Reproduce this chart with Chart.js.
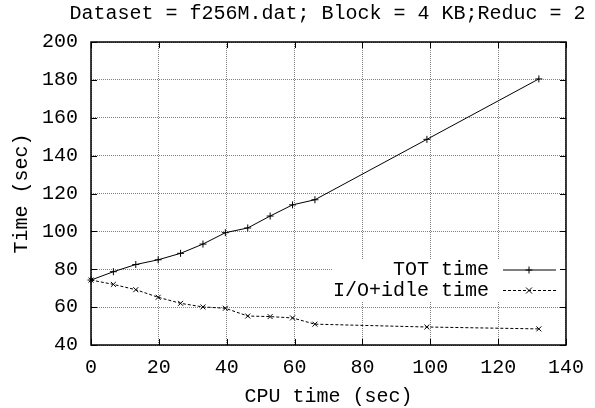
<!DOCTYPE html>
<html><head><meta charset="utf-8">
<script src="https://cdn.jsdelivr.net/npm/chart.js@4"></script>
<style>html,body{margin:0;padding:0;background:#fff}#wrap{width:595px;height:408px}</style>
</head><body><div id="wrap"><canvas id="c" width="595" height="408"></canvas></div>
<script>
const chartTitle = 'Dataset = f256M.dat; Block = 4 KB;Reduc = 2';
const xTitle = 'CPU time (sec)';
const yTitle = 'Time (sec)';
const seriesLabels = ['TOT time', 'I/O+idle time'];
const cpuTime = [0, 6.6, 13.2, 19.8, 26.4, 33, 39.6, 46.2, 52.8, 59.4, 66, 99, 132];
const totTime = [74.3, 78.7, 82.5, 85.0, 88.4, 93.3, 99.3, 101.8, 108.1, 114.0, 116.7, 148.6, 180.5];
const ioIdleTime = [74.3, 72.0, 69.2, 65.2, 62.0, 60.1, 59.4, 55.3, 55.0, 54.3, 51.0, 49.5, 48.5];
const xTicks = [0, 20, 40, 60, 80, 100, 120, 140];
const yTicks = [40, 60, 80, 100, 120, 140, 160, 180, 200];

const FONT = "'Liberation Mono', 'DejaVu Sans Mono', monospace";
const FS = 20;

function pts(xs, ys) { return xs.map((x, i) => ({x: x, y: ys[i]})); }

const framePlugin = {
  id: 'frame',
  afterDraw(chart) {
    const ctx = chart.ctx, a = chart.chartArea;
    const xs = chart.scales.x, ys = chart.scales.y;
    ctx.save();
    // title centered on plot
    ctx.fillStyle = '#000';
    ctx.font = FS + 'px ' + FONT;
    ctx.textAlign = 'center';
    ctx.textBaseline = 'middle';
    ctx.fillText(chartTitle, (a.left + a.right) / 2 - 1, 14);
    // legend (key)
    ctx.fillStyle = '#fff';
    ctx.fillRect(332, 259, 236, 42);
    ctx.fillStyle = '#000';
    ctx.textAlign = 'right';
    const rows = [270, 290.5];
    const x0 = 503, x1 = 556, xm = 529;
    ctx.fillText(seriesLabels[0], 489, rows[0]);
    ctx.fillText(seriesLabels[1], 489, rows[1]);
    ctx.strokeStyle = '#000';
    ctx.lineWidth = 1;
    ctx.beginPath(); ctx.moveTo(x0, rows[0]); ctx.lineTo(x1, rows[0]); ctx.stroke();
    ctx.beginPath(); ctx.moveTo(xm - 3.5, rows[0]); ctx.lineTo(xm + 3.5, rows[0]);
    ctx.moveTo(xm, rows[0] - 3.5); ctx.lineTo(xm, rows[0] + 3.5); ctx.stroke();
    ctx.setLineDash([3, 2]);
    ctx.beginPath(); ctx.moveTo(x0, rows[1]); ctx.lineTo(x1, rows[1]); ctx.stroke();
    ctx.setLineDash([]);
    ctx.beginPath(); ctx.moveTo(xm - 3, rows[1] - 3); ctx.lineTo(xm + 3, rows[1] + 3);
    ctx.moveTo(xm - 3, rows[1] + 3); ctx.lineTo(xm + 3, rows[1] - 3); ctx.stroke();
    // inward ticks
    const tl = 6;
    ctx.beginPath();
    xTicks.forEach(v => {
      const px = Math.round(xs.getPixelForValue(v)) + 0.5;
      ctx.moveTo(px, a.bottom); ctx.lineTo(px, a.bottom - tl);
      ctx.moveTo(px, a.top); ctx.lineTo(px, a.top + tl);
    });
    yTicks.forEach(v => {
      const py = Math.round(ys.getPixelForValue(v)) + 0.5;
      ctx.moveTo(a.left, py); ctx.lineTo(a.left + tl, py);
      ctx.moveTo(a.right, py); ctx.lineTo(a.right - tl, py);
    });
    ctx.stroke();
    // border box
    ctx.lineWidth = 1.5;
    ctx.strokeRect(a.left, a.top, a.right - a.left, a.bottom - a.top);
    ctx.restore();
  }
};

new Chart(document.getElementById('c'), {
  type: 'line',
  data: {
    datasets: [
      {
        label: seriesLabels[0], data: pts(cpuTime, totTime),
        borderColor: '#000', backgroundColor: '#000', borderWidth: 1,
        pointStyle: 'cross', pointRadius: 3.5, pointBorderWidth: 1,
        pointBorderColor: '#000', tension: 0, fill: false
      },
      {
        label: seriesLabels[1], data: pts(cpuTime, ioIdleTime),
        borderColor: '#000', backgroundColor: '#000', borderWidth: 1,
        borderDash: [3, 2],
        pointStyle: 'crossRot', pointRadius: 3.5, pointBorderWidth: 1,
        pointBorderColor: '#000', tension: 0, fill: false
      }
    ]
  },
  options: {
    responsive: false, animation: false, clip: false,
    layout: {padding: {top: 42, right: 25, left: 0, bottom: 0}},
    plugins: {legend: {display: false}, tooltip: {enabled: false}, title: {display: false}},
    scales: {
      x: {
        type: 'linear', min: 0, max: 140,
        afterBuildTicks(s) { s.ticks = xTicks.map(v => ({value: v})); },
        ticks: {color: '#000', font: {family: FONT, size: FS}, padding: 11, maxRotation: 0, autoSkip: false},
        grid: {color: '#808080', drawTicks: false, lineWidth: 1},
        border: {display: false, dash: [1, 1]},
        title: {display: true, text: xTitle, color: '#000', font: {family: FONT, size: FS, lineHeight: 1.1}, padding: {top: 0, bottom: 0}},
        afterFit(s) { s.height = 63; }
      },
      y: {
        type: 'linear', min: 40, max: 200,
        afterBuildTicks(s) { s.ticks = yTicks.map(v => ({value: v})); },
        ticks: {color: '#000', font: {family: FONT, size: FS}, padding: 13, autoSkip: false},
        grid: {color: '#808080', drawTicks: false, lineWidth: 1},
        border: {display: false, dash: [1, 1]},
        title: {display: true, text: yTitle, color: '#000', font: {family: FONT, size: FS, lineHeight: 1.1}, padding: {top: 11, bottom: 0}},
        afterFit(s) { s.width = 91; }
      }
    }
  },
  plugins: [framePlugin]
});
</script>
</body></html>
